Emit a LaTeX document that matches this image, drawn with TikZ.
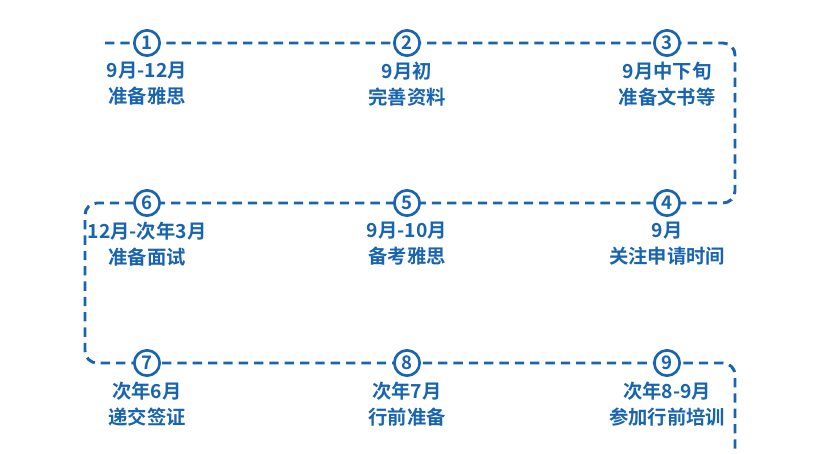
\documentclass[tikz,border=0pt]{standalone}
\usepackage{fontspec}
\setmainfont{Noto Sans CJK SC}[BoldFont={Noto Sans CJK SC Bold}]
\usetikzlibrary{positioning}
\definecolor{stepblue}{RGB}{24,100,176}
\begin{document}
\begin{tikzpicture}
    [
      x=0.75pt, y=-0.75pt,
      num/.style={circle,draw=stepblue,line width=2pt,fill=white,text=stepblue,
        minimum size=19pt,inner sep=0pt,font=\bfseries\fontsize{14}{14}\selectfont},
      desc/.style={text=stepblue,align=center,font=\bfseries\fontsize{14.5}{19.5}\selectfont},
      route/.style={draw=stepblue,line width=2.2pt,dash pattern=on 7pt off 4.5pt,rounded corners=9pt},
    ]
    \useasboundingbox (0,0) rectangle (816,453);

    % route
    \coordinate (start) at (105,43);
    \coordinate (end) at (735,453);
    \path[route] (start) -- (735,43) -- (735,203) -- (85,203) -- (85,363) -- (735,363) -- (end);

    % steps
    \node (n1) [num] at (147,43) {1};
    \node (n2) [num] at (407,43) {2};
    \node (n3) [num] at (667,43) {3};
    \node (n4) [num] at (667,203) {4};
    \node (n5) [num] at (407,203) {5};
    \node (n6) [num] at (147,203) {6};
    \node (n7) [num] at (147,363) {7};
    \node (n8) [num] at (407,363) {8};
    \node (n9) [num] at (667,363) {9};

    \node (t1) [desc,below=0pt of n1] {9月-12月\\准备雅思};
    \node (t2) [desc,below=0pt of n2] {9月初\\完善资料};
    \node (t3) [desc,below=0pt of n3] {9月中下旬\\准备文书等};
    \node (t4) [desc,below=0pt of n4] {9月\\关注申请时间};
    \node (t5) [desc,below=0pt of n5] {9月-10月\\备考雅思};
    \node (t6) [desc,below=0pt of n6] {12月-次年3月\\准备面试};
    \node (t7) [desc,below=0pt of n7] {次年6月\\递交签证};
    \node (t8) [desc,below=0pt of n8] {次年7月\\行前准备};
    \node (t9) [desc,below=0pt of n9] {次年8-9月\\参加行前培训};
\end{tikzpicture}
\end{document}
